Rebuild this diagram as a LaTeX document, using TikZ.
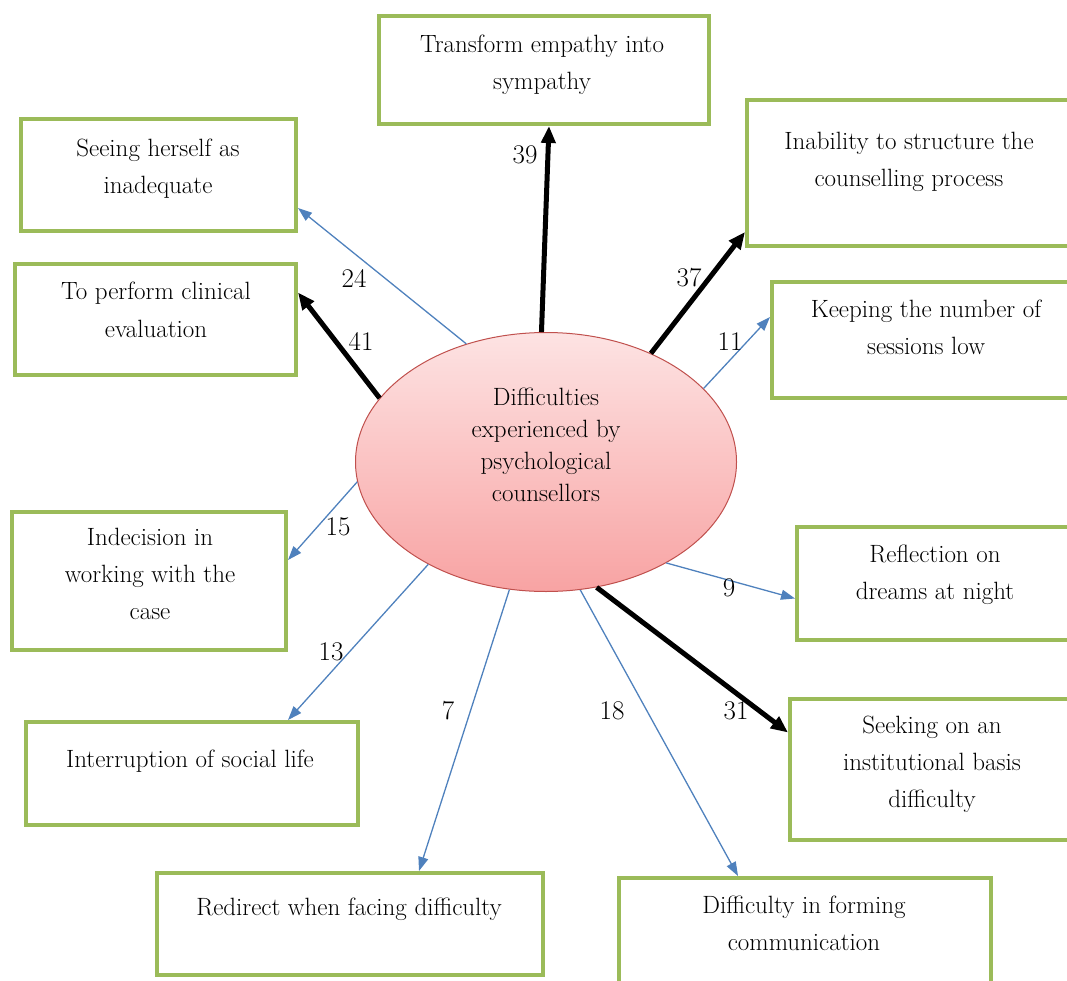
\documentclass[tikz,border=0pt]{standalone}
\usepackage{fontspec}
\usetikzlibrary{shapes.geometric,arrows.meta}
\definecolor{boxgreen}{HTML}{9BBB59}
\definecolor{linkblue}{HTML}{4F81BD}
\definecolor{ellrim}{HTML}{C0504D}
\definecolor{elltop}{HTML}{FDE3E3}
\definecolor{ellbot}{HTML}{F8A3A3}
\begin{document}
\begin{tikzpicture}[x=1pt,y=-1pt,
  gbox/.style={draw=boxgreen, line width=4pt, fill=white, inner sep=0pt},
  % multi-line texts are anchored at the baseline of their last line
  btext/.style={anchor=base, align=center, inner sep=0pt,
                font=\fontsize{25}{37}\selectfont},
  num/.style={inner sep=0pt, font=\fontsize{27}{30}\selectfont},
  strong/.style={draw=black, line width=5pt, -{Triangle[length=17pt,width=14pt]}},
  weak/.style={draw=linkblue, line width=1.3pt, -{Triangle[length=14pt,width=10pt]}}]
\useasboundingbox (0,0) rectangle (1067,981);

% central ellipse
\node[ellipse, draw=ellrim, line width=1pt, top color=elltop, bottom color=ellbot,
      minimum width=381pt, minimum height=259pt, inner sep=0pt] (ell) at (546,462) {};
\node[btext, font=\fontsize{25}{32}\selectfont] (ctext) at (546,501)
  {Difficulties\\experienced by\\psychological\\counsellors};

% outcome boxes
\node[gbox, minimum width=330pt, minimum height=108pt] (b1) at (544,70) {};
\node[gbox, minimum width=275pt, minimum height=112pt] (b2) at (158.5,175) {};
\node[gbox, minimum width=281pt, minimum height=111pt] (b3) at (155.5,319.5) {};
\node[gbox, minimum width=324pt, minimum height=146pt] (b4) at (909,173) {};
\node[gbox, minimum width=308pt, minimum height=116pt] (b5) at (926,340) {};
\node[gbox, minimum width=274pt, minimum height=138pt] (b6) at (149,581) {};
\node[gbox, minimum width=276pt, minimum height=113pt] (b7) at (935,583.5) {};
\node[gbox, minimum width=332pt, minimum height=103pt] (b8) at (192,773.5) {};
\node[gbox, minimum width=284pt, minimum height=141pt] (b9) at (932,769.5) {};
\node[gbox, minimum width=386pt, minimum height=102pt] (b10) at (350,924) {};
\node[gbox, minimum width=372pt, minimum height=112pt] (b11) at (805,934) {};

% box texts
\node[btext] (t1) at (542,90) {Transform empathy into\\sympathy};
\node[btext] (t2) at (158,194) {Seeing herself as\\inadequate};
\node[btext] (t3) at (156,337) {To perform clinical\\evaluation};
\node[btext] (t4) at (909,187) {Inability to structure the\\counselling process};
\node[btext] (t5) at (926,354) {Keeping the number of\\sessions low};
\node[btext] (t6) at (150,619) {Indecision in\\working with the\\case};
\node[btext] (t7) at (935,599) {Reflection on\\dreams at night};
\node[btext] (t8) at (190,767) {Interruption of social life};
\node[btext] (t9) at (932,807) {Seeking on an\\institutional basis\\difficulty};
\node[btext] (t10) at (349,915) {Redirect when facing difficulty};
\node[btext] (t11) at (804,950) {Difficulty in forming\\communication};

% connectors
\draw[strong] (ell.92)    -- ([xshift=5pt]b1.south);
\draw[weak]   (ell.124.5) -- ([yshift=-33pt]b2.east);
\draw[strong] (ell.159.7) -- ([yshift=27pt]b3.east);
\draw[strong] (ell.46.9)  -- ([yshift=-59pt]b4.west);
\draw[weak]   (ell.25.7)  -- ([yshift=23pt]b5.west);
\draw[weak]   (ell.186)   -- ([yshift=21pt]b6.east);
\draw[weak]   (ell.320.9) -- ([yshift=-15pt]b7.west);
\draw[weak]   (ell.221.5) -- ([xshift=96pt]b8.north);
\draw[strong] (ell.292.8) -- ([yshift=37pt]b9.west);
\draw[weak]   (ell.254.4) -- ([xshift=69pt]b10.north);
\draw[weak]   (ell.285.1) -- ([xshift=-67pt]b11.north);

% frequency labels
\node[num] (n39) at (525,155) {39};
\node[num] (n24) at (354,278) {24};
\node[num] (n41) at (361,341) {41};
\node[num] (n37) at (689,278) {37};
\node[num] (n11) at (730,342) {11};
\node[num] (n15) at (338,527) {15};
\node[num] (n13) at (331,652) {13};
\node[num] (n7)  at (448,711) {7};
\node[num] (n18) at (612,711) {18};
\node[num] (n31) at (736,711) {31};
\node[num] (n9)  at (729,588) {9};
\end{tikzpicture}
\end{document}
